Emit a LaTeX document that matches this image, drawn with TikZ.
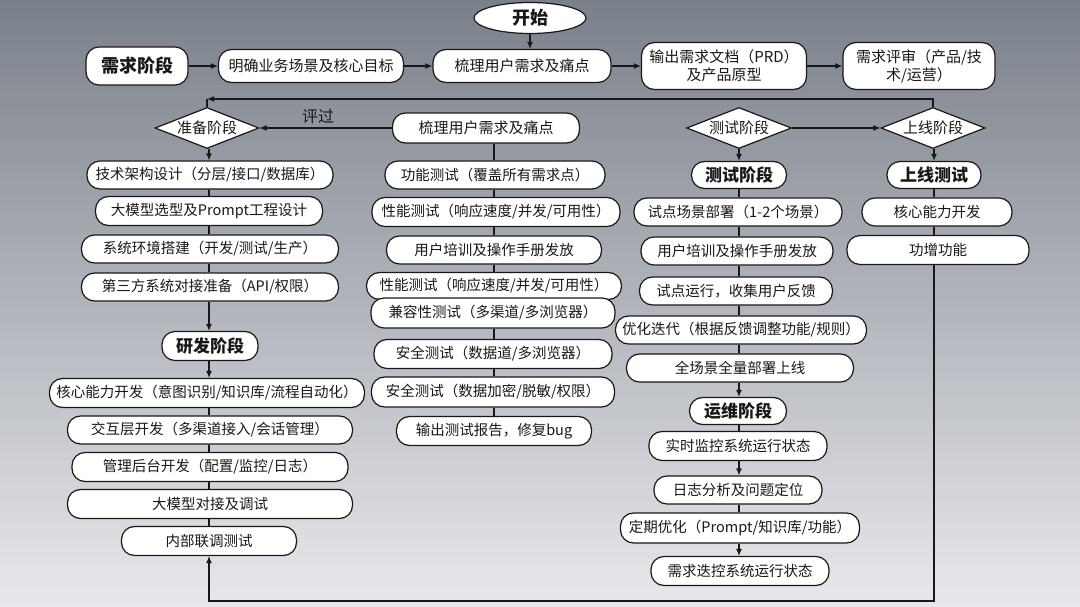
\documentclass[tikz,border=0pt]{standalone}
\usepackage{fontspec}
\setmainfont{Noto Sans CJK SC}
\usepackage{tikz}
\usetikzlibrary{shapes.geometric, arrows.meta}

\definecolor{bgtop}{RGB}{122,128,138}
\definecolor{bgmid}{RGB}{178,182,188}
\definecolor{bgbot}{RGB}{232,233,236}
\definecolor{ink}{RGB}{24,24,24}

\tikzset{
  box/.style={draw=ink, fill=white, line width=1.2pt, rounded corners=13pt, inner xsep=6pt, inner ysep=0pt,
    minimum height=28, font=\fontsize{14.5}{17}\selectfont, text=ink, align=center},
  topbox/.style={box, font=\fontsize{15}{18}\selectfont},
  stagebox/.style={box, font=\fontsize{17}{20}\selectfont\bfseries},
  dia/.style={diamond, draw=ink, fill=white, line width=1.2pt, aspect=2.5, inner sep=0pt,
    minimum width=104, minimum height=41, font=\fontsize{15}{18}\selectfont, text=ink},
  arr/.style={draw=ink, line width=1.2pt, -{Latex[length=7pt,width=6pt]}},
  lnk/.style={draw=ink, line width=1.2pt}
}

\begin{document}
\begin{tikzpicture}[x=1pt, y=-1pt]
    % background
    \useasboundingbox (0,0) rectangle (1080,607);
    \shade[top color=bgtop, middle color=bgmid, bottom color=bgbot] (0,0) rectangle (1080,607);
    % columns
    \coordinate (c1) at (209,0); \coordinate (c2) at (494,0); \coordinate (c3) at (739,0); \coordinate (c4) at (934,0);

    % requirement row
    \node[ellipse, draw=ink, fill=white, line width=1.2pt, minimum width=112, minimum height=31, inner sep=0pt,
      font=\fontsize{18}{20}\selectfont\bfseries, text=ink] at (530,18) (start) {开始};
    \node[stagebox, font=\fontsize{18}{20}\selectfont\bfseries, minimum width=102, minimum height=38] at (137,66) (xqjd) {需求阶段};
    \node[topbox, minimum width=185, minimum height=33] at (311,66) (mqyw) {明确业务场景及核心目标};
    \node[topbox, minimum width=178, minimum height=33] at (522,66) (slyh) {梳理用户需求及痛点};
    \node[topbox, minimum width=165, minimum height=47] at (724,66) (scwd) {输出需求文档（PRD）\\及产品原型};
    \node[topbox, minimum width=152, minimum height=47] at (919,66) (xqps) {需求评审（产品/技\\术/运营）};
    \draw[arr] (start) -- (slyh.north -| start);
    \draw[arr] (xqjd) -- (mqyw);
    \draw[arr] (mqyw) -- (slyh);
    \draw[arr] (slyh) -- (scwd);
    \draw[arr] (scwd) -- (xqps);

    % stage diamonds
    \node[dia] at (207,128) (zbjd) {准备阶段};
    \node[box, font=\fontsize{15}{18}\selectfont, minimum width=187, minimum height=30] at (486,128) (slyh2) {梳理用户需求及痛点};
    \node[dia, minimum width=105] at (739,128) (csjd) {测试阶段};
    \node[dia] at (933,128) (sxjd) {上线阶段};
    \node[font=\fontsize{16}{18}\selectfont, text=ink] at (318,116) (pg) {评过};
    \draw[arr] (slyh2) -- (zbjd);
    \draw[arr] (csjd) -- (sxjd);
    \coordinate (rtr) at (933,99); \coordinate (rtl) at (207,99);
    \draw[arr] (sxjd.north) -- (rtr) -- (rtl);
    \draw[lnk] (rtl) -- (zbjd.north);

    % preparation and development column
    \node[box, minimum width=246] at (210,175) (jsjg) {技术架构设计（分层/接口/数据库）};
    \node[box, minimum width=227, minimum height=29] at (209,211) (dmx) {大模型选型及Prompt工程设计};
    \node[box, minimum width=257] at (210,249) (xthj) {系统环境搭建（开发/测试/生产）};
    \node[box, minimum width=257] at (210,287) (dsf) {第三方系统对接准备（API/权限）};
    \node[stagebox, minimum width=96, minimum height=29] at (210,346) (yfjd) {研发阶段};
    \node[box, minimum width=315, minimum height=29] at (207,393) (hxnl) {核心能力开发（意图识别/知识库/流程自动化）};
    \node[box, minimum width=285] at (210,430) (jhc) {交互层开发（多渠道接入/会话管理）};
    \node[box, minimum width=276, minimum height=29] at (210,467) (glht) {管理后台开发（配置/监控/日志）};
    \node[box, minimum width=285, minimum height=29] at (210,504) (dmxdj) {大模型对接及调试};
    \node[box, minimum width=175, minimum height=29] at (209,541) (nblt) {内部联调测试};
    \draw[arr] (zbjd.south -| c1) -- (jsjg.north -| c1);
    \draw[lnk] (jsjg.south -| c1) -- (dmx.north -| c1);
    \draw[lnk] (dmx.south -| c1) -- (xthj.north -| c1);
    \draw[lnk] (xthj.south -| c1) -- (dsf.north -| c1);
    \draw[arr] (dsf.south -| c1) -- (yfjd.north -| c1);
    \draw[arr] (yfjd.south -| c1) -- (hxnl.north -| c1);
    \draw[lnk] (hxnl.south -| c1) -- (jhc.north -| c1);
    \draw[lnk] (jhc.south -| c1) -- (glht.north -| c1);
    \draw[lnk] (glht.south -| c1) -- (dmxdj.north -| c1);
    \draw[lnk] (dmxdj.south -| c1) -- (nblt.north -| c1);

    % testing column
    \node[box, minimum width=220] at (495,175) (gncs) {功能测试（覆盖所有需求点）};
    \node[box, minimum width=248, minimum height=29] at (496,212) (xncs1) {性能测试（响应速度/并发/可用性）};
    \node[box, minimum width=215] at (494,250) (yhpx) {用户培训及操作手册发放};
    \node[box, minimum width=255, minimum height=27] at (494,286) (xncs2) {性能测试（响应速度/并发/可用性）};
    \node[box, minimum width=244, minimum height=30] at (493,313) (jrx) {兼容性测试（多渠道/多浏览器）};
    \node[box, minimum width=238, minimum height=29] at (493,354) (aqcs1) {安全测试（数据道/多浏览器）};
    \node[box, minimum width=243, minimum height=30] at (493,392) (aqcs2) {安全测试（数据加密/脱敏/权限）};
    \node[box, minimum width=195, minimum height=29] at (494,431) (sccs) {输出测试报告，修复bug};
    \draw[lnk] (slyh2.south -| c2) -- (gncs.north -| c2);
    \draw[lnk] (gncs.south -| c2) -- (xncs1.north -| c2);
    \draw[lnk] (xncs1.south -| c2) -- (yhpx.north -| c2);
    \draw[lnk] (yhpx.south -| c2) -- (xncs2.north -| c2);
    \draw[lnk] (jrx.south -| c2) -- (aqcs1.north -| c2);
    \draw[lnk] (aqcs1.south -| c2) -- (aqcs2.north -| c2);
    \draw[lnk] (aqcs2.south -| c2) -- (sccs.north -| c2);

    % pilot and operation column
    \node[stagebox, minimum width=95, minimum height=27] at (739,175) (csjd2) {测试阶段};
    \node[box, minimum width=208] at (738,212) (sdcj) {试点场景部署（1-2个场景）};
    \node[box, minimum width=192] at (737,251) (yhpx2) {用户培训及操作手册发放};
    \node[box, minimum width=193] at (736,291) (sdyx) {试点运行，收集用户反馈};
    \node[box, minimum width=251] at (741,330) (yhdd) {优化迭代（根据反馈调整功能/规则）};
    \node[box, minimum width=227] at (740,368) (qcj) {全场景全量部署上线};
    \node[stagebox, minimum width=97, minimum height=27] at (738,411) (ywjd) {运维阶段};
    \node[box, minimum width=178, minimum height=29] at (738,446) (ssjk) {实时监控系统运行状态};
    \node[box, minimum width=168] at (738,490) (rzfx) {日志分析及问题定位};
    \node[box, minimum width=239, minimum height=30] at (740,528) (dqyh) {定期优化（Prompt/知识库/功能）};
    \node[box, minimum width=178, minimum height=29] at (740,571) (xqdk) {需求迭控系统运行状态};
    \draw[arr] (csjd.south -| c3) -- (csjd2.north -| c3);
    \draw[lnk] (csjd2.south -| c3) -- (sdcj.north -| c3);
    \draw[lnk] (sdcj.south -| c3) -- (yhpx2.north -| c3);
    \draw[lnk] (yhpx2.south -| c3) -- (sdyx.north -| c3);
    \draw[lnk] (sdyx.south -| c3) -- (yhdd.north -| c3);
    \draw[lnk] (yhdd.south -| c3) -- (qcj.north -| c3);
    \draw[arr] (qcj.south -| c3) -- (ywjd.north -| c3);
    \draw[lnk] (ywjd.south -| c3) -- (ssjk.north -| c3);
    \draw[arr] (ssjk.south -| c3) -- (rzfx.north -| c3);
    \draw[lnk] (rzfx.south -| c3) -- (dqyh.north -| c3);
    \draw[arr] (dqyh.south -| c3) -- (xqdk.north -| c3);

    % launch column
    \node[stagebox, minimum width=94, minimum height=27] at (934,175) (sxcs) {上线测试};
    \node[box, minimum width=150] at (937,212) (hxnl2) {核心能力开发};
    \node[box, minimum width=182, minimum height=29] at (938,250) (gzgn) {功增功能};
    \draw[arr] (sxjd.south -| c4) -- (sxcs.north -| c4);
    \draw[lnk] (sxcs.south -| c4) -- (hxnl2.north -| c4);
    \draw[lnk] (hxnl2.south -| c4) -- (gzgn.north -| c4);
    % feedback loop
    \coordinate (lpr) at (934,601); \coordinate (lpl) at (209,601);
    \draw[arr] (gzgn.south -| c4) -- (lpr) -- (lpl) -- (nblt.south -| c1);

\end{tikzpicture}
\end{document}
